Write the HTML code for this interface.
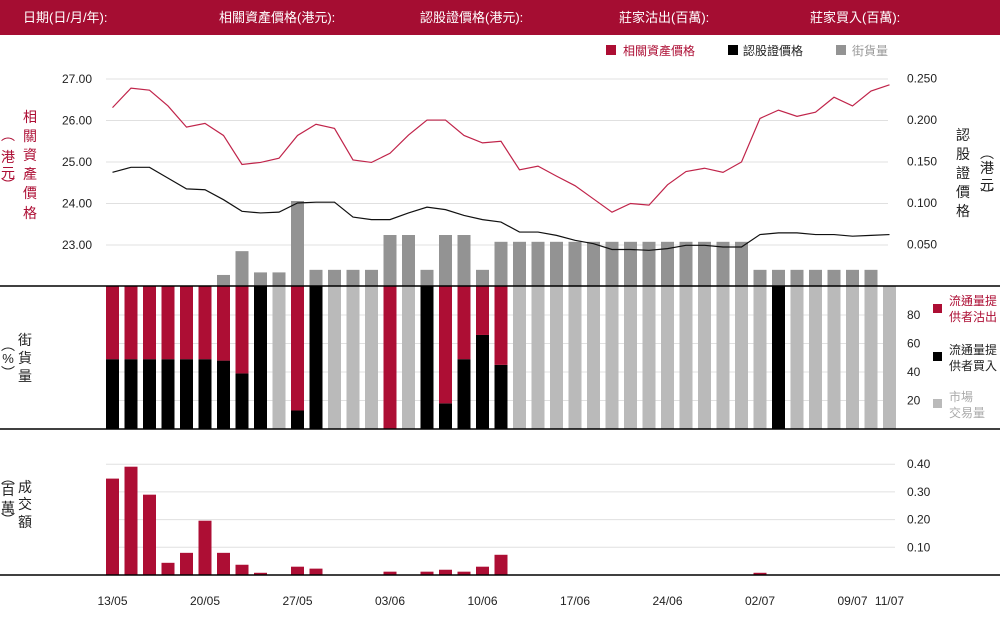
<!DOCTYPE html>
<html><head><meta charset="utf-8"><style>
html,body{margin:0;padding:0;background:#fff;}
svg{display:block;font-family:"Liberation Sans","Noto Sans CJK TC",sans-serif;}
</style></head><body>
<svg id="chart" width="1000" height="620" viewBox="0 0 1000 620" xmlns="http://www.w3.org/2000/svg">
<rect x="0" y="0" width="1000" height="35" fill="#a50d32"/>
<g fill="#fff" font-size="13">
<text x="23" y="22">日期(日/月/年):</text>
<text x="219" y="22">相關資產價格(港元):</text>
<text x="420" y="22">認股證價格(港元):</text>
<text x="619" y="22">莊家沽出(百萬):</text>
<text x="810" y="22">莊家買入(百萬):</text>
</g>
<g font-size="12">
<g><rect x="606" y="45" width="10" height="10" fill="#ad0e34"/><text x="623" y="55" fill="#ad0e34">相關資產價格</text></g>
<g><rect x="728" y="45" width="10" height="10" fill="#000"/><text x="743" y="55" fill="#222">認股證價格</text></g>
<g><rect x="836" y="45" width="10" height="10" fill="#939393"/><text x="852" y="55" fill="#999">街貨量</text></g>
</g>
<g id="grid"></g>
<g id="marks"></g>
<g id="axes" font-size="12" fill="#222"></g>
<g font-size="14" text-anchor="middle">
<g fill="#ad0e34">
<text x="30" y="122">相</text><text x="30" y="141">關</text><text x="30" y="160">資</text><text x="30" y="179">產</text><text x="30" y="198">價</text><text x="30" y="218">格</text>
<text x="8" y="140">︵</text><text x="8" y="162">港</text><text x="8" y="178">元</text><text x="8" y="190">︶</text>
</g>
<g fill="#222">
<text x="25" y="345">街</text><text x="25" y="363">貨</text><text x="25" y="381">量</text>
<text x="8" y="350">︵</text><text x="8" y="363" font-size="13">%</text><text x="8" y="378">︶</text>
</g>
<g fill="#222">
<text x="25" y="492">成</text><text x="25" y="509">交</text><text x="25" y="527">額</text>
<text x="8" y="483">︵</text><text x="8" y="495">百</text><text x="8" y="513">萬</text><text x="8" y="525">︶</text>
</g>
<g fill="#222">
<text x="963" y="140">認</text><text x="963" y="159">股</text><text x="963" y="178">證</text><text x="963" y="197">價</text><text x="963" y="216">格</text>
<text x="987" y="158">︵</text><text x="987" y="173">港</text><text x="987" y="190">元</text><text x="987" y="200">︶</text>
</g>
</g>
<g font-size="12">
<g><rect x="933" y="304" width="9" height="9" fill="#ad0e34"/><text x="949" y="305" fill="#ad0e34">流通量提</text><text x="949" y="321" fill="#ad0e34">供者沽出</text></g>
<g><rect x="933" y="352" width="9" height="9" fill="#000"/><text x="949" y="354" fill="#222">流通量提</text><text x="949" y="370" fill="#222">供者買入</text></g>
<g><rect x="933" y="399" width="9" height="9" fill="#bababa"/><text x="949" y="401" fill="#aaa">市場</text><text x="949" y="417" fill="#aaa">交易量</text></g>
</g>
</svg>
<script>
const dates = ["13/05","","","","","20/05","","","","","27/05","","","","","03/06","","","","","10/06","","","","","17/06","","","","","24/06","","","","","02/07","","","","","09/07","","11/07"];
const underlying = [26.31,26.78,26.73,26.35,25.84,25.93,25.64,24.94,24.99,25.09,25.64,25.91,25.81,25.05,24.99,25.21,25.65,26.01,26.01,25.64,25.46,25.50,24.81,24.90,24.66,24.43,24.11,23.79,24.00,23.96,24.45,24.77,24.85,24.75,25.00,26.05,26.25,26.10,26.20,26.56,26.35,26.71,26.86];
const warrant = [0.137,0.143,0.143,0.130,0.117,0.116,0.104,0.090,0.088,0.089,0.100,0.101,0.101,0.083,0.080,0.080,0.088,0.095,0.092,0.085,0.080,0.077,0.065,0.065,0.061,0.055,0.051,0.044,0.044,0.043,0.045,0.049,0.049,0.047,0.047,0.062,0.064,0.064,0.062,0.062,0.060,0.061,0.062];
const outstanding = [0,0,0,0,0,0,1.3,4.1,1.6,1.6,10,1.9,1.9,1.9,1.9,6.0,6.0,1.9,6.0,6.0,1.9,5.2,5.2,5.2,5.2,5.2,5.2,5.2,5.2,5.2,5.2,5.2,5.2,5.2,5.2,1.9,1.9,1.9,1.9,1.9,1.9,1.9,0];
const lpSellPct = [51,51,51,51,51,51,52,61,0,0,87,0,0,0,0,100,0,0,82,51,34,55,0,0,0,0,0,0,0,0,0,0,0,0,0,0,0,0,0,0,0,0,0];
const lpBuyPct = [49,49,49,49,49,49,48,39,100,0,13,100,0,0,0,0,0,100,18,49,66,45,0,0,0,0,0,0,0,0,0,0,0,0,0,0,100,0,0,0,0,0,0];
const turnover = [0.348,0.391,0.290,0.044,0.080,0.196,0.080,0.037,0.008,0,0.030,0.023,0,0,0,0.012,0,0.012,0.019,0.012,0.030,0.073,0,0,0,0,0,0,0,0,0,0,0,0,0,0.008,0,0,0,0,0,0,0];
const leftTicks = [23,24,25,26,27];
const rightTicks = [0.05,0.1,0.15,0.2,0.25];
const pctTicks = [20,40,60,80];
const turnTicks = [0.1,0.2,0.3,0.4];

const NS="http://www.w3.org/2000/svg";
function mk(tag,attrs,parent){const e=document.createElementNS(NS,tag);for(const k in attrs)e.setAttribute(k,attrs[k]);parent.appendChild(e);return e;}
const xC = i => 112.5 + i*18.5;
const yL = v => 245 - (v-23)*41.5;
const yR = v => 286 - v/0.05*41.5;
const yVol = v => 286 - v*8.5;
const yPct = v => 429 - v*1.425;
const yTurn = v => 575 - v*277;
const BW=13;
const grid=document.getElementById('grid'), marks=document.getElementById('marks'), axes=document.getElementById('axes');

leftTicks.forEach(t=>{
  const l=mk('line',{x1:106,x2:888,y1:yL(t),y2:yL(t),stroke:'#e0e0e0','stroke-width':1},grid);
  
  
  const tx=mk('text',{x:92,y:yL(t)+4,'text-anchor':'end'},axes);
  tx.textContent=t.toFixed(2);
  
  
});
rightTicks.forEach(t=>{
  const tx=mk('text',{x:907,y:yR(t)+4},axes);
  tx.textContent=t.toFixed(3);
  
  
});
pctTicks.forEach(t=>{
  const l=mk('line',{x1:106,x2:895,y1:yPct(t),y2:yPct(t),stroke:'#e0e0e0','stroke-width':1},grid);
  
  
  const tx=mk('text',{x:907,y:yPct(t)+4},axes);
  tx.textContent=t;
  
  
});
turnTicks.forEach(t=>{
  const l=mk('line',{x1:106,x2:895,y1:yTurn(t),y2:yTurn(t),stroke:'#e0e0e0','stroke-width':1},grid);
  
  
  const tx=mk('text',{x:907,y:yTurn(t)+4},axes);
  tx.textContent=t.toFixed(2);
  
  
});

dates.forEach((d,i)=>{
  const x=xC(i)-BW/2;
  if(outstanding[i]>0){
    const r=mk('rect',{x:x,y:yVol(outstanding[i]),width:BW,height:286-yVol(outstanding[i]),fill:'#939393'},marks);
    
    
  }
  const buy=lpBuyPct[i], sell=lpSellPct[i], mkt=100-buy-sell;
  if(buy>0){const r=mk('rect',{x:x,y:yPct(buy),width:BW,height:429-yPct(buy),fill:'#000'},marks);
    
    }
  if(sell>0){const r=mk('rect',{x:x,y:yPct(buy+sell),width:BW,height:yPct(buy)-yPct(buy+sell),fill:'#ad0e34'},marks);
    
    }
  if(mkt>0){const r=mk('rect',{x:x,y:yPct(100),width:BW,height:yPct(buy+sell)-yPct(100),fill:'#bababa'},marks);
    
    }
  if(turnover[i]>0){const r=mk('rect',{x:x,y:yTurn(turnover[i]),width:BW,height:575-yTurn(turnover[i]),fill:'#ad0e34'},marks);
    
    }
  if(d){const tx=mk('text',{x:xC(i),y:605,'text-anchor':'middle'},axes);
    tx.textContent=d;
    
    }
});
const p1=mk('polyline',{points:underlying.map((v,i)=>xC(i)+','+yL(v)).join(' '),fill:'none',stroke:'#c0244a','stroke-width':1.2},marks);


const p2=mk('polyline',{points:warrant.map((v,i)=>xC(i)+','+yR(v)).join(' '),fill:'none',stroke:'#111','stroke-width':1.2},marks);


[286,429,575].forEach(y=>{
  const l=mk('line',{x1:0,x2:1000,y1:y,y2:y,stroke:'#000','stroke-width':1.5},marks);
  
  
});
</script>
</body></html>
